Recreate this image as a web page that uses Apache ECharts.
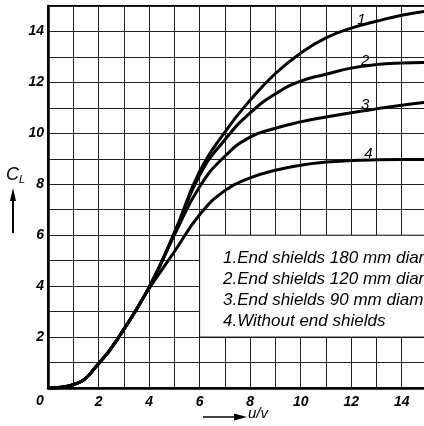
<!DOCTYPE html>
<html><head><meta charset="utf-8">
<script src="https://cdn.jsdelivr.net/npm/echarts@6/dist/echarts.min.js"></script>
<style>html,body{margin:0;padding:0;background:#fff}#c{width:424px;height:426px}</style>
</head><body><div id="c"></div>
<script>
const xValues = [0,1,2,3,4,5,6,7,8,9,10,11,12,13,14,15];
const curve1 = [0,0.13,0.95,2.3,3.95,6.1,8.5,10.05,11.3,12.35,13.15,13.75,14.13,14.4,14.64,14.8];
const curve2 = [0,0.13,0.95,2.3,3.95,6.05,8.35,9.75,10.8,11.55,12.05,12.32,12.56,12.7,12.76,12.78];
const curve3 = [0,0.13,0.95,2.3,3.95,6.0,7.9,9.1,9.85,10.2,10.45,10.64,10.81,10.96,11.1,11.22];
const curve4 = [0,0.13,0.95,2.3,3.9,5.35,6.8,7.75,8.25,8.55,8.75,8.87,8.93,8.96,8.97,8.97];
const curveNames = ['1','2','3','4'];
const curveLabelPos = [[12.4,14.45],[12.55,12.85],[12.55,11.1],[12.68,9.2]];
const legendLines = ['1.End shields 180 mm diam.','2.End shields 120 mm diam.','3.End shields 90 mm diam.','4.Without end shields'];
const xTickLabels = ['2','4','6','8','10','12','14'];
const yTickLabels = ['2','4','6','8','10','12','14'];

const chart = echarts.init(document.getElementById('c'));
const lab = {fontFamily:'Liberation Sans', fontStyle:'italic', fontWeight:'bold', fontSize:14, color:'#000'};
const all = [curve1,curve2,curve3,curve4];
const series = all.map((c,i)=>({
  type:'line', data: xValues.map((x,j)=>[x,c[j]]), smooth:0.5, symbol:'none',
  lineStyle:{color:'#000', width:3}, z:5,
  markPoint:{symbol:'circle', symbolSize:0, data:[{coord:curveLabelPos[i], value:curveNames[i]}],
    label:{show:true, formatter:curveNames[i], ...lab, fontSize:15, fontWeight:'normal'}},
  markArea: i===3 ? {silent:true, itemStyle:{color:'#fff', borderColor:'#111', borderWidth:1},
    data:[[{coord:[6,2]},{coord:[15,6]}]]} : undefined
}));
chart.setOption({
  animation:false,
  grid:{left:48, right:-3, top:6, bottom:38, outerBoundsMode:'none', containLabel:false, show:true, borderColor:'#000', borderWidth:2},
  xAxis:{type:'value', min:0, max:15, interval:1,
    axisLine:{show:true, lineStyle:{color:'#000', width:2.5}}, axisTick:{show:false},
    splitLine:{show:true, lineStyle:{color:'#222', width:1}},
    axisLabel:{...lab, margin:7, formatter:v=> xTickLabels.includes(String(v))? String(v):''}},
  yAxis:{type:'value', min:0, max:15, interval:1,
    axisLine:{show:true, lineStyle:{color:'#000', width:2.5}}, axisTick:{show:false},
    splitLine:{show:true, lineStyle:{color:'#222', width:1}},
    axisLabel:{...lab, margin:4, formatter:v=> yTickLabels.includes(String(v))? String(v):''}},
  series,
  graphic:[
    {type:'text', left:223, top:248, z:20, style:{text:legendLines.join('\n'), font:'italic 17px "Liberation Sans"', lineHeight:21, fill:'#000'}},
    {type:'text', left:36, top:394, style:{text:'0', font:'italic bold 14px "Liberation Sans"', fill:'#000'}},
    {type:'text', left:6, top:166, style:{text:'{c|C}{l|L}', rich:{c:{font:'italic 18px "Liberation Sans"', fill:'#000'}, l:{font:'italic 11px "Liberation Sans"', fill:'#000', padding:[9,0,0,0]}}}},
    {type:'line', shape:{x1:13, y1:233, x2:13, y2:198}, style:{stroke:'#000', lineWidth:2}},
    {type:'polygon', shape:{points:[[13,188],[10,201],[16,201]]}, style:{fill:'#000'}},
    {type:'line', shape:{x1:203, y1:417, x2:238, y2:417}, style:{stroke:'#000', lineWidth:1.5}},
    {type:'polygon', shape:{points:[[247,417],[234,413.5],[234,420.5]]}, style:{fill:'#000'}},
    {type:'text', left:248, top:406, style:{text:'u/v', font:'italic 15px "Liberation Sans"', fill:'#000'}}
  ]
});
</script></body></html>
